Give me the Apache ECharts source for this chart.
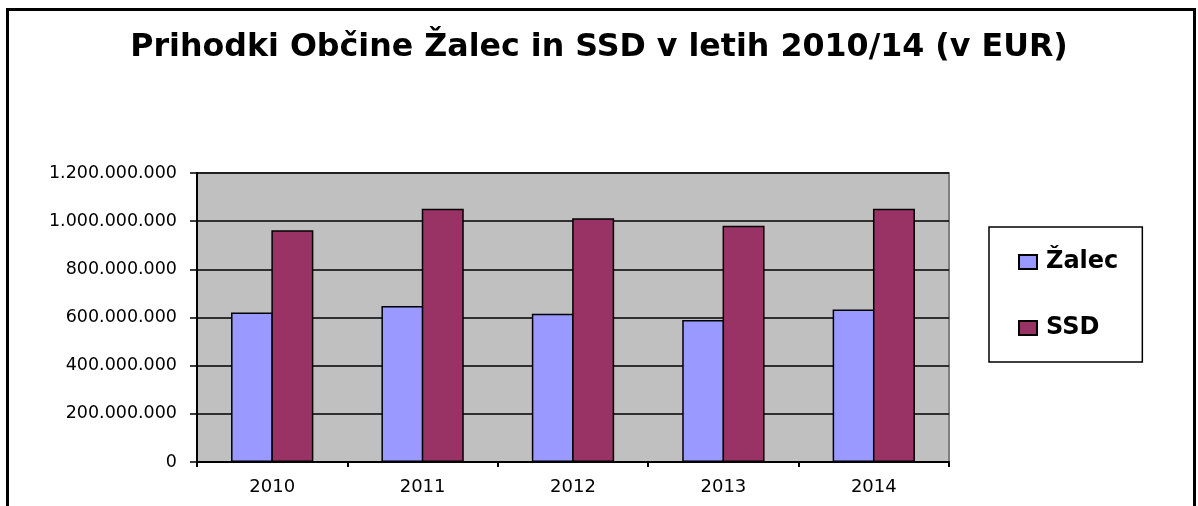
<!DOCTYPE html>
<html>
<head>
<meta charset="utf-8">
<title>Prihodki Občine Žalec in SSD</title>
<script src="https://cdn.jsdelivr.net/npm/echarts@6/dist/echarts.min.js"></script>
<style>
	html, body { margin: 0; padding: 0; background: #fff; }
	#chart { width: 1198px; height: 506px; }
</style>
</head>
<body>
<div id="chart"></div>
<script>
	// podatki (EUR)
	var years = ['2010', '2011', '2012', '2013', '2014'];
	var zalec = [621000000, 648000000, 616000000, 590000000, 633000000];
	var ssd = [962000000, 1052000000, 1012000000, 981000000, 1052000000];
	var seriesNames = ['Žalec', 'SSD'];

	function fmt(v) {
		return String(v).replace(/\B(?=(\d{3})+(?!\d))/g, '.');
	}

	var font = 'DejaVu Sans';
	var myChart = echarts.init(document.getElementById('chart'), null, { renderer: 'canvas' });

	var option = {
		animation: false,
		backgroundColor: '#fff',
		title: {
			text: 'Prihodki Občine Žalec in SSD v letih 2010/14 (v EUR)',
			left: 'center',
			top: 27,
			textStyle: {
				fontFamily: font,
				fontWeight: 'bold',
				fontSize: 31.7,
				color: '#000'
			}
		},
		graphic: [{
			// okvir grafikona
			type: 'rect',
			shape: { x: 7.5, y: 9.5, width: 1187, height: 600 },
			style: { fill: 'none', stroke: '#000', lineWidth: 3 },
			silent: true
		}],
		legend: {
			orient: 'vertical',
			left: 989,
			top: 227,
			padding: [23, 24, 22, 29],
			itemGap: 42,
			itemWidth: 18,
			itemHeight: 14,
			icon: 'rect',
			backgroundColor: '#fff',
			borderColor: '#000',
			borderWidth: 1.5,
			data: seriesNames,
			textStyle: {
				fontFamily: font,
				fontWeight: 'bold',
				fontSize: 24,
				lineHeight: 24,
				color: '#000',
				padding: [0, 0, 0, 4]
			}
		},
		grid: {
			show: true,
			left: 197,
			right: 249,
			top: 173,
			bottom: 44,
			backgroundColor: '#C0C0C0',
			borderColor: '#808080',
			borderWidth: 2
		},
		xAxis: {
			type: 'category',
			data: years,
			axisLine: { lineStyle: { color: '#000', width: 2 } },
			axisTick: { show: true, length: 5, lineStyle: { color: '#000', width: 2 } },
			axisLabel: {
				margin: 16,
				fontFamily: font,
				fontSize: 18,
				color: '#000'
			}
		},
		yAxis: {
			type: 'value',
			min: 0,
			max: 1200000000,
			interval: 200000000,
			axisLine: { show: true, lineStyle: { color: '#000', width: 2 } },
			axisTick: { show: true, length: 7, lineStyle: { color: '#000', width: 1.5 } },
			splitLine: { lineStyle: { color: '#000', width: 1.5 } },
			axisLabel: {
				margin: 20,
				fontFamily: font,
				fontSize: 17.5,
				color: '#000',
				formatter: fmt
			}
		},
		series: [{
			name: seriesNames[0],
			type: 'bar',
			data: zalec,
			barWidth: 42,
			barGap: '-4%',
			itemStyle: { color: '#9999FF', borderColor: '#000', borderWidth: 1.5 }
		}, {
			name: seriesNames[1],
			type: 'bar',
			data: ssd,
			barWidth: 42,
			barGap: '-4%',
			itemStyle: { color: '#993366', borderColor: '#000', borderWidth: 1.5 }
		}]
	};

	myChart.setOption(option);
</script>
</body>
</html>
